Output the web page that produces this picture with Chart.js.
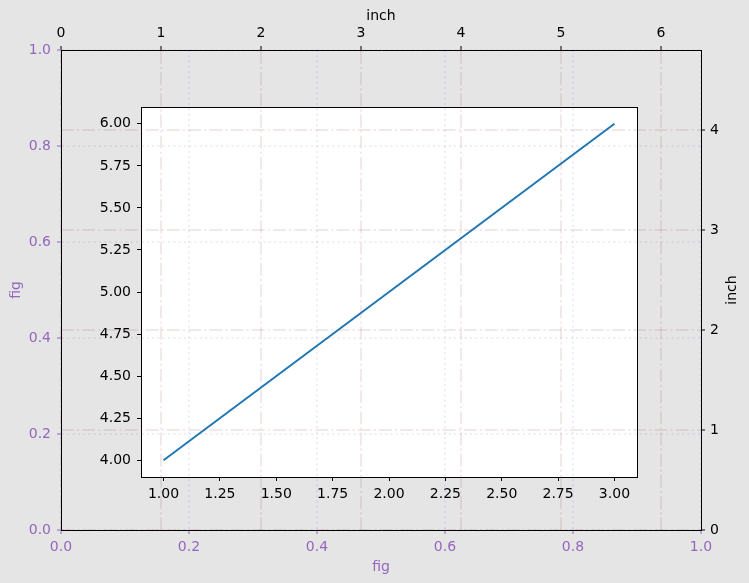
<!DOCTYPE html>
<html>
<head>
<meta charset="utf-8">
<script src="https://cdn.jsdelivr.net/npm/chart.js@4/dist/chart.umd.min.js"></script>
<style>
  html, body { margin: 0; padding: 0; background: #e5e5e5; }
  #wrap { position: relative; width: 749px; height: 583px; }
  #wrap canvas { position: absolute; left: 0; top: 0; }
</style>
</head>
<body>
<div id="wrap">
  <canvas id="innerChart" width="749" height="583"></canvas>
  <canvas id="outerChart" width="749" height="583"></canvas>
</div>
<script>
// data of the inset line
var xVals = [1, 2, 3];
var yVals = [4, 5, 6];

// tick labels
var innerXTicks = [1.00, 1.25, 1.50, 1.75, 2.00, 2.25, 2.50, 2.75, 3.00];
var innerYTicks = [4.00, 4.25, 4.50, 4.75, 5.00, 5.25, 5.50, 5.75, 6.00];
var figTicks = [0, 0.2, 0.4, 0.6, 0.8, 1.0];
var inchXTicks = [0, 1, 2, 3, 4, 5, 6];
var inchYTicks = [0, 1, 2, 3, 4];

var purple = '#9467bd';
var dashDotColor = 'rgba(165,80,80,0.13)';
var dottedColor = 'rgba(90,90,210,0.11)';

Chart.defaults.font.family = "'DejaVu Sans', sans-serif";
Chart.defaults.font.size = 14;
Chart.defaults.color = '#000';

function fixSize(px) {
  return function (scale) {
    if (scale.isHorizontal()) scale.height = px;
    else scale.width = px;
  };
}
function setTicks(list) {
  return function (scale) {
    scale.ticks = list.map(function (v) { return { value: v }; });
  };
}

var whiteArea = {
  id: 'whiteArea',
  beforeDraw: function (chart) {
    var a = chart.chartArea, ctx = chart.ctx;
    ctx.save();
    ctx.fillStyle = '#ffffff';
    ctx.fillRect(a.left, a.top, a.right - a.left, a.bottom - a.top);
    ctx.restore();
  }
};

// inset axes (drawn underneath the figure-level grid)
new Chart(document.getElementById('innerChart').getContext('2d'), {
  type: 'line',
  data: {
    datasets: [{
      data: xVals.map(function (x, i) { return { x: x, y: yVals[i] }; }),
      borderColor: '#1f77b4',
      borderWidth: 2,
      pointRadius: 0,
      fill: false,
      tension: 0
    }]
  },
  options: {
    responsive: false,
    animation: false,
    layout: { padding: 0 },
    plugins: { legend: { display: false }, tooltip: { enabled: false } },
    scales: {
      x: {
        type: 'linear', position: 'bottom', min: 0.9, max: 3.1,
        afterBuildTicks: setTicks(innerXTicks), afterFit: fixSize(106),
        ticks: { autoSkip: false, maxRotation: 0, padding: 5,
                 callback: function (v) { return v.toFixed(2); } },
        grid: { drawOnChartArea: false, tickLength: 4, tickColor: '#000', tickWidth: 1 },
        border: { color: '#000', width: 1 }
      },
      y: {
        type: 'linear', position: 'left', min: 3.9, max: 6.1,
        afterBuildTicks: setTicks(innerYTicks), afterFit: fixSize(141),
        ticks: { autoSkip: false, padding: 6,
                 callback: function (v) { return v.toFixed(2); } },
        grid: { drawOnChartArea: false, tickLength: 4, tickColor: '#000', tickWidth: 1 },
        border: { color: '#000', width: 1 }
      },
      x2: {
        type: 'linear', position: 'top', min: 0.9, max: 3.1, afterFit: fixSize(107),
        ticks: { display: false }, grid: { display: false },
        border: { color: '#000', width: 1 }
      },
      y2: {
        type: 'linear', position: 'right', min: 3.9, max: 6.1, afterFit: fixSize(112),
        ticks: { display: false }, grid: { display: false },
        border: { color: '#000', width: 1 }
      }
    }
  },
  plugins: [whiteArea]
});

var rightTitle = {
  id: 'rightTitle',
  afterDraw: function (chart) {
    var a = chart.chartArea, ctx = chart.ctx;
    ctx.save();
    ctx.translate(732, (a.top + a.bottom) / 2);
    ctx.rotate(-Math.PI / 2);
    ctx.font = "14px 'DejaVu Sans', sans-serif";
    ctx.fillStyle = '#000';
    ctx.textAlign = 'center';
    ctx.textBaseline = 'middle';
    ctx.fillText('inch', 0, 0);
    ctx.restore();
  }
};

// figure / inch frame with grids
new Chart(document.getElementById('outerChart').getContext('2d'), {
  type: 'scatter',
  data: { datasets: [] },
  options: {
    responsive: false,
    animation: false,
    layout: { padding: 0 },
    plugins: { legend: { display: false }, tooltip: { enabled: false } },
    scales: {
      xFig: {
        type: 'linear', position: 'bottom', min: 0, max: 1,
        afterBuildTicks: setTicks(figTicks), afterFit: fixSize(53),
        ticks: { color: purple, padding: 5, maxRotation: 0,
                 callback: function (v) { return v.toFixed(1); } },
        grid: { color: dottedColor, lineWidth: 2, tickLength: 4, tickColor: purple, tickWidth: 1 },
        border: { color: '#000', width: 1, dash: [2, 3.3] },
        title: { display: true, text: 'fig', color: purple, padding: { top: 7.6, bottom: 7.6 } }
      },
      xInch: {
        type: 'linear', position: 'top', min: 0, max: 6.4,
        afterBuildTicks: setTicks(inchXTicks), afterFit: fixSize(50),
        ticks: { color: '#000', padding: 4, maxRotation: 0,
                 callback: function (v) { return String(v); } },
        grid: { color: dashDotColor, lineWidth: 2, tickLength: 4, tickColor: '#000', tickWidth: 1 },
        border: { color: '#000', width: 1, dash: [12.8, 3.2, 2, 3.2] },
        title: { display: true, text: 'inch', color: '#000', padding: { top: 7.6, bottom: 7.6 } }
      },
      yFig: {
        type: 'linear', position: 'left', min: 0, max: 1,
        afterBuildTicks: setTicks(figTicks), afterFit: fixSize(61),
        ticks: { color: purple, padding: 6,
                 callback: function (v) { return v.toFixed(1); } },
        grid: { color: dottedColor, lineWidth: 2, tickLength: 4, tickColor: purple, tickWidth: 1 },
        border: { color: '#000', width: 1, dash: [2, 3.3] },
        title: { display: true, text: 'fig', color: purple, padding: { top: 7.6, bottom: 7.6 } }
      },
      yInch: {
        type: 'linear', position: 'right', min: 0, max: 4.8,
        afterBuildTicks: setTicks(inchYTicks), afterFit: fixSize(48),
        ticks: { color: '#000', padding: 5,
                 callback: function (v) { return String(v); } },
        grid: { color: dashDotColor, lineWidth: 2, tickLength: 4, tickColor: '#000', tickWidth: 1 },
        border: { color: '#000', width: 1, dash: [12.8, 3.2, 2, 3.2] }
      }
    }
  },
  plugins: [rightTitle]
});
</script>
</body>
</html>
